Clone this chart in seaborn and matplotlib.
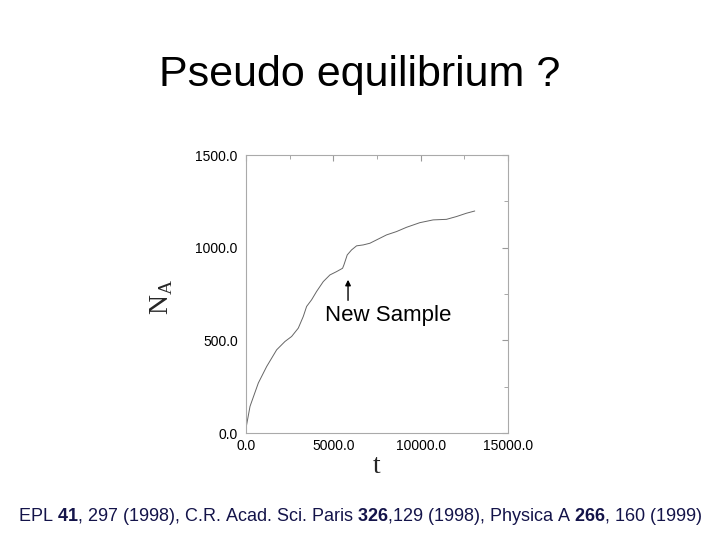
import numpy as np
import pandas as pd
import matplotlib
matplotlib.use("Agg")
import matplotlib.pyplot as plt
import seaborn as sns

# curve
t_vals = [0, 229, 705, 1182, 1754, 2230, 2611, 2992, 3278, 3469, 3755, 4041, 4422,
          4803, 5184, 5527, 5604, 5794, 6042, 6328, 6709, 7090, 7471, 8043, 8615,
          9187, 9949, 10712, 11474, 12046, 12618, 13094]
na_vals = [27, 144, 270, 359, 449, 494, 521, 566, 629, 683, 719, 764, 817,
           853, 871, 889, 907, 961, 988, 1010, 1015, 1024, 1042, 1069, 1087,
           1110, 1135, 1150, 1153, 1168, 1186, 1198]
x_ticks = [0.0, 5000.0, 10000.0, 15000.0]
y_ticks = [0.0, 500.0, 1000.0, 1500.0]

df = pd.DataFrame({"t": t_vals, "NA": na_vals})

sns.set_style("white")
plt.rcParams['font.family'] = ['Liberation Sans', 'DejaVu Sans']
plt.rcParams['text.color'] = 'black'
plt.rcParams['mathtext.fontset'] = 'custom'
plt.rcParams['mathtext.rm'] = 'Liberation Sans'
plt.rcParams['mathtext.bf'] = 'Liberation Sans:bold'

fig = plt.figure(figsize=(7.2, 5.4), dpi=100)
ax = fig.add_axes([0.3417, 0.1981, 0.3639, 0.5148])

sns.lineplot(data=df, x="t", y="NA", ax=ax, color="#666666", linewidth=0.7)

ax.set_xlim(0, 15000)
ax.set_ylim(0, 1500)
ax.set_xticks(x_ticks)
ax.set_yticks(y_ticks)
ax.set_xticklabels([f"{v:.1f}" for v in x_ticks])
ax.set_yticklabels([f"{v:.1f}" for v in y_ticks])
ax.set_xticks(np.arange(0, 15001, 2500), minor=True)
ax.set_yticks(np.arange(0, 1501, 250), minor=True)
ax.tick_params(which="both", direction="in", top=True, right=True, color="#999999",
               labelsize=10, labelcolor="black")
ax.tick_params(axis="y", pad=6)
ax.tick_params(axis="x", pad=4)
ax.tick_params(which="major", length=4)
ax.tick_params(which="minor", length=3)
for s in ax.spines.values():
    s.set_color("#aaaaaa")
    s.set_linewidth(0.8)

ax.set_xlabel("t", fontfamily="Liberation Serif", fontsize=20)
ax.set_ylabel(r"N$_\mathregular{A}$", fontfamily="Liberation Serif", fontsize=20)
ax.xaxis.set_label_coords(0.5, -0.075)
ax.yaxis.set_label_coords(-0.27, 0.49)

ax.annotate("", xy=(5840, 842), xytext=(5840, 701),
            arrowprops=dict(arrowstyle="-|>", color="black", lw=1.0,
                            mutation_scale=8))
ax.text(4523, 632, "New Sample", fontsize=16, va="center", ha="left")

fig.text(0.5, 0.862, "Pseudo equilibrium ?", ha="center", va="center", fontsize=31)
fig.text(0.5, 0.043,
         r"EPL $\mathbf{41}$, 297 (1998), C.R. Acad. Sci. Paris $\mathbf{326}$,129 (1998), "
         r"Physica A $\mathbf{266}$, 160 (1999)",
         ha="center", va="center", fontsize=13, color="#14144a")

fig.savefig("out.png", dpi=100)
